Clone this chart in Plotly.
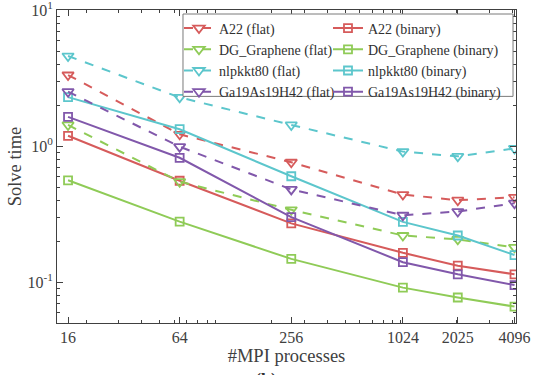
import plotly.graph_objects as go
import numpy as np

procs = [16, 64, 256, 1024, 2025, 4096]
tick_labels = ["16", "64", "256", "1024", "2025", "4096"]

a22_flat = [3.33, 1.22, 0.76, 0.44, 0.40, 0.42]
a22_binary = [1.19, 0.556, 0.27, 0.164, 0.132, 0.114]
dg_flat = [1.43, 0.547, 0.34, 0.22, 0.206, 0.18]
dg_binary = [0.56, 0.278, 0.148, 0.091, 0.077, 0.066]
nlp_flat = [4.59, 2.28, 1.43, 0.91, 0.84, 0.96]
nlp_binary = [2.29, 1.33, 0.60, 0.277, 0.22, 0.158]
ga_flat = [2.51, 0.99, 0.48, 0.31, 0.33, 0.38]
ga_binary = [1.64, 0.82, 0.30, 0.14, 0.114, 0.095]

series = [
    ("A22 (flat)", a22_flat, "#d65b5b", "flat"),
    ("A22 (binary)", a22_binary, "#d65b5b", "binary"),
    ("DG_Graphene (flat)", dg_flat, "#8fcb57", "flat"),
    ("DG_Graphene (binary)", dg_binary, "#8fcb57", "binary"),
    ("nlpkkt80 (flat)", nlp_flat, "#5cc6cc", "flat"),
    ("nlpkkt80 (binary)", nlp_binary, "#5cc6cc", "binary"),
    ("Ga19As19H42 (flat)", ga_flat, "#8158ab", "flat"),
    ("Ga19As19H42 (binary)", ga_binary, "#8158ab", "binary"),
]

SERIF = "Liberation Serif"

fig = go.Figure()
for name, vals, color, kind in series:
    flat = kind == "flat"
    fig.add_trace(go.Scatter(
        x=procs, y=vals, name=name, mode="lines+markers",
        legend="legend" if flat else "legend2",
        line=dict(color=color, width=2, dash="dash" if flat else "solid"),
        marker=dict(symbol="triangle-down-open" if flat else "square-open",
                    size=10 if flat else 8, color=color, line=dict(width=1.8, color=color)),
    ))

x_minor = [v * 10 ** k for k in (1, 2, 3) for v in range(1, 10) if 14 <= v * 10 ** k <= 4170]
y_minor = [v * 10 ** k for k in (-2, -1, 0) for v in range(2, 10) if 0.05 <= v * 10 ** k <= 10]

axcol = "#404040"
txtcol = "#404040"
leg_common = dict(
    orientation="v", yanchor="top", xanchor="left",
    bgcolor="rgba(0,0,0,0)", borderwidth=0,
    font=dict(family=SERIF, size=14, color="#303030"),
    itemwidth=30, tracegroupgap=0,
)

fig.update_layout(
    width=535, height=375,
    margin=dict(l=57, r=19, t=10, b=52),
    paper_bgcolor="white", plot_bgcolor="white",
    font=dict(family=SERIF, size=16, color=txtcol),
    showlegend=True,
    legend=dict(x=0.2658, y=0.992, **leg_common),
    legend2=dict(x=0.5904, y=0.992, **leg_common),
    xaxis=dict(
        type="log", range=[np.log10(13.95), np.log10(4173)],
        tickvals=procs, ticktext=tick_labels, automargin=False,
        ticklabeloverflow="allow",
        ticks="inside", ticklen=6, tickcolor=axcol, tickwidth=1,
        showline=True, linecolor=axcol, linewidth=1, mirror="ticks",
        showgrid=False, zeroline=False,
        tickfont=dict(family=SERIF, size=16, color=txtcol),
        title=dict(text="#MPI processes", standoff=3,
                   font=dict(family=SERIF, size=18.5, color=txtcol)),
        minor=dict(tickvals=x_minor, ticks="inside", ticklen=3, tickcolor=axcol, showgrid=False),
    ),
    yaxis=dict(
        type="log", range=[np.log10(0.05), 1.0005],
        tickvals=[0.1, 1, 10], ticktext=["10<sup>-1</sup>", "10<sup>0</sup>", "10<sup>1</sup>"],
        automargin=False, ticklabeloverflow="allow",
        ticks="inside", ticklen=6, tickcolor=axcol, tickwidth=1,
        showline=True, linecolor=axcol, linewidth=1, mirror="ticks",
        showgrid=False, zeroline=False,
        tickfont=dict(family=SERIF, size=16, color=txtcol),
        title=dict(text="Solve time", standoff=0,
                   font=dict(family=SERIF, size=18.5, color=txtcol)),
        minor=dict(tickvals=y_minor, ticks="inside", ticklen=3, tickcolor=axcol, showgrid=False),
    ),
)

# legend frame (both legend columns sit inside one box, as in the original)
fig.add_shape(type="rect", xref="paper", yref="paper",
              x0=0.2745, x1=0.9935, y0=0.724, y1=0.9872,
              line=dict(color="#7a7a7a", width=1), fillcolor="white", layer="above")

fig.add_annotation(
    text="<b>(b)</b>", x=0.5, xref="paper", y=-0.144, yref="paper", yanchor="top",
    xshift=-21, showarrow=False, font=dict(family=SERIF, size=18, color="#303030"),
)

fig.write_html("out.html", post_script="document.body.style.margin='0';",
               config={"displayModeBar": False})
